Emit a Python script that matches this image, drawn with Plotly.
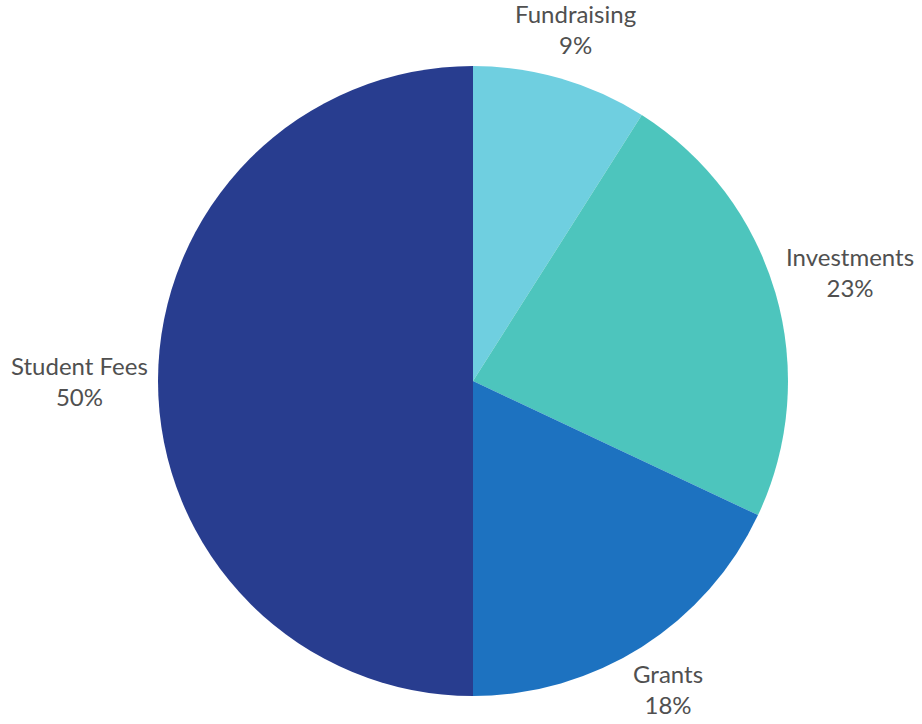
import math
import plotly.graph_objects as go

labels = ["Fundraising", "Investments", "Grants", "Student Fees"]
values = [9, 23, 18, 50]
colors = ["#6fcfe0", "#4dc5bd", "#1d72c0", "#283d8f"]

W, H = 922, 724
CX, CY, R = 473, 381, 315          # pie centre / radius in pixels
LABEL_GAP = 323                    # radius where label boxes start
FONT_SIZE = 24
CHAR_W = 11.7                      # approx. px per character at FONT_SIZE
LINE_H = 27

fig = go.Figure(go.Pie(
    labels=labels,
    values=values,
    sort=False,
    direction="clockwise",
    rotation=0,
    marker=dict(colors=colors, line=dict(width=0)),
    textinfo="none",
    showlegend=False,
    hoverinfo="label+percent",
    domain=dict(x=[(CX - R) / W, (CX + R) / W],
                y=[1 - (CY + R) / H, 1 - (CY - R) / H]),
))

# outside labels placed at each slice's mid-angle
total = sum(values)
cum = 0
for lab, v in zip(labels, values):
    mid = (cum + v / 2) / total * 2 * math.pi
    cum += v
    ux, uy = math.sin(mid), -math.cos(mid)
    pct = f"{v / total * 100:.0f}%"
    w = CHAR_W * max(len(lab), len(pct))
    h = 2 * LINE_H
    d = LABEL_GAP + abs(ux) * w / 2 + abs(uy) * h / 2
    px, py = CX + ux * d, CY + uy * d
    fig.add_annotation(
        x=px / W, y=1 - py / H, xref="paper", yref="paper",
        text=f"{lab}<br>{pct}", showarrow=False,
        xanchor="center", yanchor="middle", align="center",
        font=dict(family="Lato", size=FONT_SIZE, color="#505050"),
    )

fig.update_layout(
    width=W,
    height=H,
    margin=dict(l=0, r=0, t=0, b=0),
    paper_bgcolor="white",
    plot_bgcolor="white",
)

fig.write_html("out.html")
